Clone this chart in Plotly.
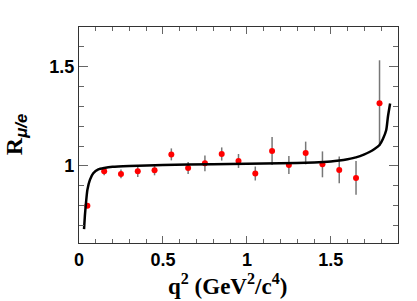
import plotly.graph_objects as go

# Data points (q^2 bin centers, ratio, errors)
q2 = [0.05, 0.15, 0.25, 0.35, 0.45, 0.55, 0.65, 0.75, 0.85, 0.95,
      1.05, 1.15, 1.25, 1.35, 1.45, 1.55, 1.65, 1.79]
ratio = [0.80, 0.973, 0.96, 0.973, 0.978, 1.058, 0.99, 1.013, 1.06, 1.025,
         0.962, 1.075, 1.005, 1.065, 1.008, 0.98, 0.94, 1.315]
ratio_err = [0.01, 0.02, 0.022, 0.028, 0.025, 0.03, 0.03, 0.04, 0.033, 0.035,
             0.035, 0.07, 0.045, 0.057, 0.065, 0.067, 0.085, 0.215]

# Theory curve samples
curve_x = [0.03, 0.035, 0.04, 0.05, 0.065, 0.085, 0.115, 0.15, 0.2, 0.3, 0.5,
           0.8, 1.0, 1.2, 1.4, 1.5, 1.55, 1.6, 1.65, 1.7, 1.73, 1.76, 1.79,
           1.81, 1.83, 1.84, 1.853]
curve_y = [0.683, 0.75, 0.80, 0.88, 0.93, 0.963, 0.983, 0.99, 0.996, 1.0, 1.005,
           1.009, 1.011, 1.013, 1.017, 1.022, 1.027, 1.034, 1.043, 1.058, 1.07,
           1.085, 1.105, 1.135, 1.18, 1.247, 1.313]

x_ticks = [0, 0.5, 1, 1.5]
x_ticklabels = ["0", "0.5", "1", "1.5"]
y_ticks = [1, 1.5]
y_ticklabels = ["1", "1.5"]

fig = go.Figure()
fig.add_trace(go.Scatter(
    x=q2, y=ratio, mode="markers",
    marker=dict(color="#ff0000", size=6),
    error_y=dict(type="data", array=ratio_err, color="#777777", thickness=1.5, width=0),
    showlegend=False))
fig.add_trace(go.Scatter(
    x=curve_x, y=curve_y, mode="lines",
    line=dict(color="black", width=2.5, shape="spline", smoothing=0.6),
    showlegend=False))

tickfont = dict(family="Liberation Sans, Arial", size=18, color="black", weight="bold")
fig.update_layout(
    width=417, height=301,
    margin=dict(l=79, r=19, t=27, b=58),
    paper_bgcolor="white", plot_bgcolor="white",
    xaxis=dict(range=[0, 1.9], tickvals=x_ticks, ticktext=x_ticklabels,
               ticks="inside", ticklen=7, tickcolor="#666666", tickwidth=1,
               minor=dict(ticks="inside", ticklen=4, dtick=0.1, tickcolor="#666666"),
               showline=True, linecolor="#333333", linewidth=1.2, mirror="ticks",
               showgrid=False, zeroline=False, tickfont=tickfont),
    yaxis=dict(range=[0.6135, 1.697], tickvals=y_ticks, ticktext=y_ticklabels,
               ticks="inside", ticklen=9, tickcolor="#666666", tickwidth=1,
               minor=dict(ticks="inside", ticklen=4.5, dtick=0.1, tickcolor="#666666"),
               showline=True, linecolor="#333333", linewidth=1.2, mirror="ticks",
               showgrid=False, zeroline=False, tickfont=tickfont),
    annotations=[
        dict(text="q<sup>2</sup> (GeV<sup>2</sup>/c<sup>4</sup>)", xref="paper", yref="paper",
             x=0.467, y=-0.194, xanchor="center", yanchor="middle", showarrow=False,
             font=dict(family="Liberation Serif, Times New Roman", size=23, color="black", weight="bold")),
        dict(text="R<sub><i style='font-family:Liberation Sans'>μ/e</i></sub>", xref="paper", yref="paper",
             x=-0.197, y=0.5, xanchor="center", yanchor="middle", textangle=-90, showarrow=False,
             font=dict(family="Liberation Serif, Times New Roman", size=24, color="black", weight="bold")),
    ],
)

fig.write_html("out.html", config={"displayModeBar": False},
               post_script="document.body.style.margin='0';document.body.style.padding='0';")
